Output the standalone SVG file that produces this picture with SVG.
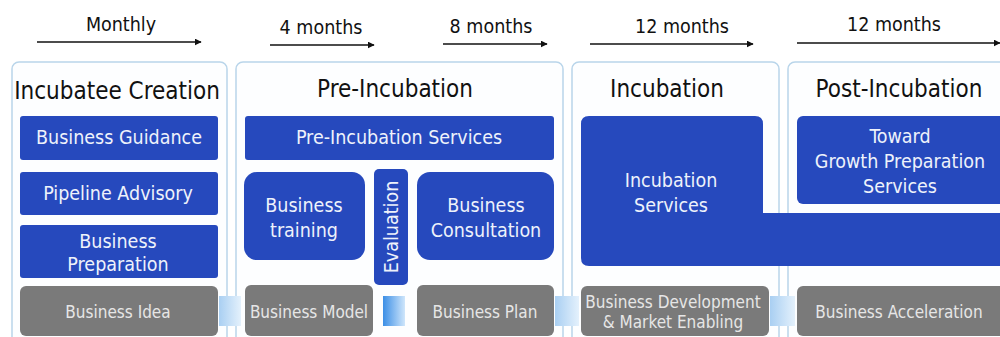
<svg xmlns="http://www.w3.org/2000/svg" width="1000" height="337" viewBox="0 0 1000 337">
<defs>
<style>
text{font-family:"DejaVu Sans Condensed","DejaVu Sans",sans-serif;text-anchor:middle}
.lbl{font-size:19.5px;fill:#111}
.ttl{font-size:24px;fill:#111}
.bt{font-size:19.5px;fill:#eef2fb}
.gt{font-size:17px;fill:#e6e6e6}
.panel{fill:#fdfeff;stroke:#b9d5ea;stroke-width:1.5}
.blue{fill:#2649bd}
.gray{fill:#7a7a7a}
.tl{stroke:#111;stroke-width:1.3;fill:none;marker-end:url(#ah)}
</style>
<marker id="ah" viewBox="0 0 10 10" refX="9" refY="5" markerWidth="7" markerHeight="7" markerUnits="userSpaceOnUse" orient="auto"><path d="M0,0L10,5L0,10z" fill="#111"/></marker>
<linearGradient id="gb" x1="0" y1="0" x2="1" y2="0"><stop offset="0" stop-color="#3c8fe6"/><stop offset="1" stop-color="#cfe6fb"/></linearGradient>
<linearGradient id="gl" x1="0" y1="0" x2="1" y2="0"><stop offset="0" stop-color="#a9cff2"/><stop offset="1" stop-color="#e4f1fc"/></linearGradient>
</defs>
<rect width="1000" height="337" fill="#fff"/>

<g id="panels">
<rect class="panel" x="12" y="62" width="215" height="290" rx="7"/>
<rect class="panel" x="236" y="62" width="327" height="290" rx="7"/>
<rect class="panel" x="572" y="62" width="207" height="290" rx="7"/>
<rect class="panel" x="788" y="62" width="230" height="290" rx="7"/>
</g>

<g id="connectors">
<line class="tl" x1="37" y1="42" x2="201" y2="42"/>
<line class="tl" x1="270" y1="45" x2="374" y2="45"/>
<line class="tl" x1="443" y1="44" x2="547" y2="44"/>
<line class="tl" x1="590" y1="44" x2="753" y2="44"/>
<line class="tl" x1="797" y1="43" x2="1000" y2="43"/>
<rect x="219" y="296" width="22" height="30" fill="url(#gl)"/>
<rect x="383" y="296" width="22" height="30" fill="url(#gb)"/>
<rect x="555" y="296" width="24" height="30" fill="url(#gl)"/>
<rect x="770" y="296" width="25" height="30" fill="url(#gl)"/>
</g>

<g id="timeline-labels">
<text class="lbl" x="121" y="31">Monthly</text>
<text class="lbl" x="321" y="34">4 months</text>
<text class="lbl" x="491" y="33">8 months</text>
<text class="lbl" x="682" y="33">12 months</text>
<text class="lbl" x="894" y="31">12 months</text>
</g>

<g id="titles">
<text class="ttl" x="117" y="99">Incubatee Creation</text>
<text class="ttl" x="395" y="97">Pre-Incubation</text>
<text class="ttl" x="667" y="97">Incubation</text>
<text class="ttl" x="899" y="97">Post-Incubation</text>
</g>

<g id="business-guidance"><rect class="blue" x="20" y="116" width="198" height="44" rx="3"/><text class="bt" x="119" y="144">Business Guidance</text></g>
<g id="pipeline-advisory"><rect class="blue" x="20" y="172" width="198" height="43" rx="3"/><text class="bt" x="118" y="200">Pipeline Advisory</text></g>
<g id="business-preparation"><rect class="blue" x="20" y="225" width="198" height="53" rx="3"/><text class="bt" x="118" y="248">Business</text><text class="bt" x="118" y="271">Preparation</text></g>
<g id="business-idea"><rect class="gray" x="20" y="286" width="198" height="50" rx="6"/><text class="gt" x="118" y="318">Business Idea</text></g>

<g id="pre-incubation-services"><rect class="blue" x="245" y="116" width="309" height="44" rx="3"/><text class="bt" x="399" y="144">Pre-Incubation Services</text></g>
<g id="business-training"><rect class="blue" x="244" y="172" width="121" height="88" rx="13"/><text class="bt" x="304" y="212">Business</text><text class="bt" x="304" y="237">training</text></g>
<g id="evaluation"><rect class="blue" x="374" y="169" width="34" height="116" rx="5"/><text class="bt" transform="translate(398,227) rotate(-90)" x="0" y="0">Evaluation</text></g>
<g id="business-consultation"><rect class="blue" x="417" y="172" width="137" height="88" rx="13"/><text class="bt" x="486" y="212">Business</text><text class="bt" x="486" y="237">Consultation</text></g>
<g id="business-model"><rect class="gray" x="245" y="285" width="128" height="51" rx="6"/><text class="gt" x="309" y="318">Business Model</text></g>
<g id="business-plan"><rect class="gray" x="417" y="285" width="137" height="51" rx="6"/><text class="gt" x="485" y="318">Business Plan</text></g>

<g id="incubation-services"><path class="blue" d="M589,116H755Q763,116 763,124V213H1010V266H589Q581,266 581,258V124Q581,116 589,116Z"/><text class="bt" x="671" y="187">Incubation</text><text class="bt" x="671" y="212">Services</text></g>
<g id="business-development"><rect class="gray" x="581" y="286" width="188" height="50" rx="6"/><text class="gt" x="673" y="308">Business Development</text><text class="gt" x="673" y="328">&amp; Market Enabling</text></g>

<g id="growth-preparation"><rect class="blue" x="797" y="116" width="215" height="88" rx="6"/><text class="bt" x="900" y="143">Toward</text><text class="bt" x="900" y="168">Growth Preparation</text><text class="bt" x="900" y="193">Services</text></g>
<g id="business-acceleration"><rect class="gray" x="797" y="286" width="215" height="50" rx="6"/><text class="gt" x="899" y="318">Business Acceleration</text></g>
</svg>
